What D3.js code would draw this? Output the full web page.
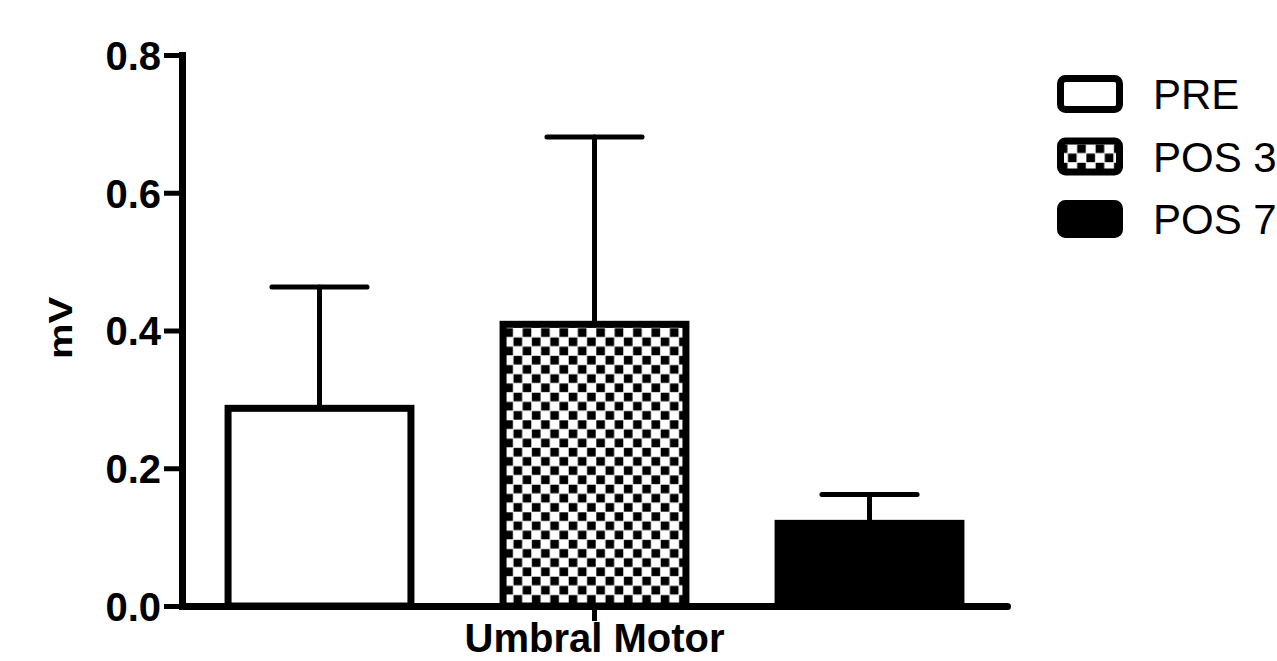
<!DOCTYPE html>
<html>
<head>
<meta charset="utf-8">
<script src="https://cdn.jsdelivr.net/npm/d3@7"></script>
<style>
  html, body { margin: 0; padding: 0; background: #fff; }
  svg { display: block; font-family: "Liberation Sans", Arial, sans-serif; }
</style>
</head>
<body>
<div class="chart"></div>
<script>
// values
const groups = ["PRE", "POS 3", "POS 7"]
const means = [0.287, 0.409, 0.120]
const sems = [0.176, 0.272, 0.042]
const yTicks = [0, 0.2, 0.4, 0.6, 0.8]
const category = ["Umbral Motor"]
const yTitle = "mV"

const svgWidth = 1277
const svgHeight = 661

let svg = d3.select(".chart")
	.append("svg")
	.attr("width", svgWidth)
	.attr("height", svgHeight)
	.style("overflow", "hidden")

// checker fill for POS 3
const sq = 9.2
let pat = svg.append("defs")
	.append("pattern")
	.attr("id", "checker")
	.attr("patternUnits", "userSpaceOnUse")
	.attr("x", 504)
	.attr("y", 328)
	.attr("width", sq * 2)
	.attr("height", sq * 2)
pat.append("rect").attr("width", sq * 2).attr("height", sq * 2).attr("fill", "#fff")
pat.append("rect").attr("x", 0.3).attr("y", 0.3).attr("width", sq - 0.6).attr("height", sq - 0.6).attr("fill", "#000")
pat.append("rect").attr("x", sq + 0.3).attr("y", sq + 0.3).attr("width", sq - 0.6).attr("height", sq - 0.6).attr("fill", "#000")

const fills = ["#fff", "url(#checker)", "#000"]

let yScale = d3.scaleLinear()
	.domain([0, 0.8])
	.range([606, 55])

let xOuter = d3.scaleBand()
	.domain(category)
	.range([182, 1007])

let xScale = d3.scaleBand()
	.domain(groups)
	.range([182, 1007])
	.paddingInner(0.335)
	.paddingOuter(0.1675)

// y axis
let yAxis = svg.append("g")
	.attr("transform", "translate(182,0)")
	.call(d3.axisLeft(yScale)
		.tickValues(yTicks)
		.tickFormat(d3.format(".1f"))
		.tickSize(18)
		.tickSizeOuter(0)
		.tickPadding(3))
yAxis.select(".domain").attr("stroke", "#000").attr("stroke-width", 7).attr("stroke-linecap", "square")
yAxis.selectAll(".tick line").attr("stroke", "#000").attr("stroke-width", 5)
yAxis.selectAll(".tick text")
	.attr("fill", "#000")
	.style("font-size", "40px")
	.style("font-weight", "bold")
	.attr("dy", "0.36em")

// x axis
let xAxis = svg.append("g")
	.attr("transform", "translate(0,606)")
	.call(d3.axisBottom(xOuter)
		.tickSize(15)
		.tickSizeOuter(0)
		.tickPadding(3))
xAxis.select(".domain").attr("stroke", "#000").attr("stroke-width", 7).attr("stroke-linecap", "round")
xAxis.selectAll(".tick line").attr("stroke", "#000").attr("stroke-width", 5)
xAxis.selectAll(".tick text")
	.attr("fill", "#000")
	.style("font-size", "40px")
	.style("font-weight", "bold")

// y title
svg.append("text")
	.attr("transform", "translate(72,328) rotate(-90) scale(1,0.82)")
	.attr("text-anchor", "middle")
	.style("font-size", "40px")
	.style("font-weight", "bold")
	.attr("fill", "#000")
	.text(yTitle)

const data = groups.map((g, i) => ({ g: g, mean: means[i], sem: sems[i], fill: fills[i] }))
const capW = xScale.bandwidth() * 0.52

// error bars (upper only)
let err = svg.append("g")
	.selectAll("g")
	.data(data)
	.enter()
	.append("g")
	.attr("stroke", "#000")
	.attr("stroke-width", 5)
	.attr("stroke-linecap", "round")

err.append("line")
	.attr("x1", d => xScale(d.g) + xScale.bandwidth() / 2)
	.attr("x2", d => xScale(d.g) + xScale.bandwidth() / 2)
	.attr("y1", d => yScale(d.mean))
	.attr("y2", d => yScale(d.mean + d.sem))

err.append("line")
	.attr("x1", d => xScale(d.g) + xScale.bandwidth() / 2 - capW / 2)
	.attr("x2", d => xScale(d.g) + xScale.bandwidth() / 2 + capW / 2)
	.attr("y1", d => yScale(d.mean + d.sem))
	.attr("y2", d => yScale(d.mean + d.sem))

// bars
svg.append("g")
	.selectAll("rect")
	.data(data)
	.enter()
	.append("rect")
	.attr("x", d => xScale(d.g))
	.attr("width", xScale.bandwidth())
	.attr("y", d => yScale(d.mean))
	.attr("height", d => yScale(0) - yScale(d.mean))
	.attr("fill", d => d.fill)
	.attr("stroke", "#000")
	.attr("stroke-width", 7)

// legend
let legend = svg.append("g")
	.selectAll("g")
	.data(data)
	.enter()
	.append("g")
	.attr("transform", (d, i) => `translate(1060.5, ${94 + i * 62.5})`)

legend.append("rect")
	.attr("x", 0)
	.attr("y", -15.5)
	.attr("width", 59)
	.attr("height", 31)
	.attr("rx", 5)
	.attr("fill", d => d.fill)
	.attr("stroke", "#000")
	.attr("stroke-width", 7)

legend.append("text")
	.attr("x", 92.5)
	.attr("y", 0)
	.attr("dy", "0.36em")
	.style("font-size", "42px")
	.attr("fill", "#000")
	.text(d => d.g)
</script>
</body>
</html>
